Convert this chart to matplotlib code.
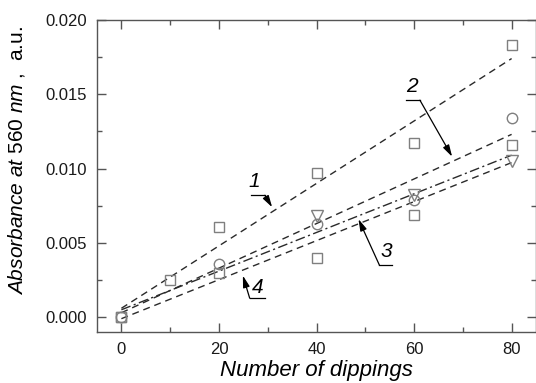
import numpy as np
import matplotlib
matplotlib.use("Agg")
import matplotlib.pyplot as plt
from matplotlib.ticker import MultipleLocator

plt.rcParams['font.family'] = ['Liberation Sans', 'DejaVu Sans']
plt.rcParams['mathtext.fontset'] = 'custom'
plt.rcParams['mathtext.it'] = 'Liberation Sans:italic'
plt.rcParams['mathtext.rm'] = 'Liberation Sans'

# measured points
x1 = [0, 10, 20, 40, 60, 80]
y1 = [0.0000, 0.0025, 0.0061, 0.0097, 0.0117, 0.0183]
x2 = [0, 20, 40, 60, 80]
y2 = [0.0000, 0.0036, 0.0063, 0.0079, 0.0134]
x3 = [40, 60, 80]
y3 = [0.0068, 0.0082, 0.0105]
x4 = [0, 20, 40, 60, 80]
y4 = [0.0000, 0.0030, 0.0040, 0.0069, 0.0116]

# fitted lines
fit_x = [0, 80]
fit1 = [0.0006, 0.0174]
fit2 = [0.0003, 0.0123]
fit3 = [0.0005, 0.0109]
fit4 = [-0.0001, 0.0104]

mk = '#7f7f7f'
ln = '#2a2a2a'

fig = plt.figure(figsize=(5.36, 3.83), dpi=100)
ax = fig.add_axes([0.181, 0.133, 0.819, 0.815])

dash = (0, (5, 3.5))
ax.plot(fit_x, fit1, color=ln, lw=1.0, ls=dash)
ax.plot(fit_x, fit2, color=ln, lw=1.0, ls=dash)
ax.plot(fit_x, fit3, color=ln, lw=1.0, ls=(0, (7, 2.5, 1.5, 2.5)))
ax.plot(fit_x, fit4, color=ln, lw=1.0, ls=dash)

ms = 7.5
ax.plot(x1, y1, 's', mfc='none', mec=mk, ms=ms, mew=1.0)
ax.plot(x2, y2, 'o', mfc='none', mec=mk, ms=ms, mew=1.0)
ax.plot(x3, y3, 'v', mfc='none', mec=mk, ms=ms + 1, mew=1.0)
ax.plot(x4, y4, 's', mfc='none', mec=mk, ms=ms, mew=1.0)

# curve labels with leaders
lab = dict(fontsize=15, style='italic', ha='center', va='center', color='black')
arr = dict(arrowstyle='-|>,head_length=0.7,head_width=0.2', color='black', lw=0.9,
           mutation_scale=10, shrinkA=0, shrinkB=0)

ax.text(27.3, 0.0091, '1', **lab)
ax.plot([26.5, 29.4], [0.0082, 0.0082], color='black', lw=0.9)
ax.annotate('', xy=(30.9, 0.0074), xytext=(29.4, 0.0082), arrowprops=arr)

ax.text(59.6, 0.0155, '2', **lab)
ax.plot([58.4, 61.2], [0.0146, 0.0146], color='black', lw=0.9)
ax.annotate('', xy=(67.8, 0.0108), xytext=(61.2, 0.0146), arrowprops=arr)

ax.text(54.3, 0.0044, '3', **lab)
ax.plot([52.9, 55.5], [0.0035, 0.0035], color='black', lw=0.9)
ax.annotate('', xy=(48.6, 0.0066), xytext=(52.9, 0.0035), arrowprops=arr)

ax.text(28.0, 0.0020, '4', **lab)
ax.plot([26.3, 29.4], [0.00128, 0.00128], color='black', lw=0.9)
ax.annotate('', xy=(24.9, 0.0028), xytext=(26.3, 0.00128), arrowprops=arr)

ax.set_xlim(-5, 85)
ax.set_ylim(-0.001, 0.020)
ax.xaxis.set_major_locator(MultipleLocator(20))
ax.xaxis.set_minor_locator(MultipleLocator(10))
ax.yaxis.set_major_locator(MultipleLocator(0.005))
ax.yaxis.set_minor_locator(MultipleLocator(0.0025))
ax.yaxis.set_major_formatter(plt.FormatStrFormatter('%.3f'))

ax.tick_params(which='both', direction='in', top=True, right=True, colors='#555555',
               labelcolor='#1a1a1a', labelsize=12, width=1.0)
ax.tick_params(which='major', length=6.5, pad=7)
ax.tick_params(which='minor', length=3.5)
for s in ax.spines.values():
    s.set_color('#555555')
    s.set_linewidth(1.0)

ax.set_xlabel('Number of dippings', fontsize=16, style='italic', labelpad=2)
ax.set_ylabel(r'$\mathit{Absorbance\ at\ 560\ nm}$ ,  a.u.', fontsize=15)
ax.yaxis.set_label_coords(-0.16, 0.55)

fig.savefig('out.png', dpi=100)
